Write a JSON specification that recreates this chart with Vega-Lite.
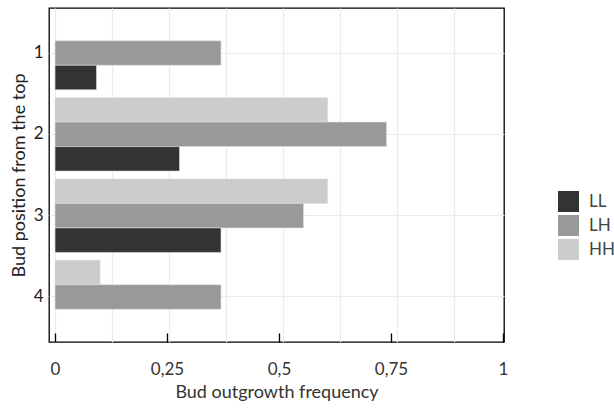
{
  "$schema": "https://vega.github.io/schema/vega-lite/v6.json",
  "width": 455,
  "height": 334,
  "autosize": {"type": "none"},
  "padding": {"left": 49, "top": 8, "right": 110, "bottom": 67},
  "background": "white",
  "config": {
    "font": "Lato",
    "view": {"stroke": "#000000", "strokeWidth": 1.3}
  },
  "data": {
    "values": [
      {"position": "1", "group": "LH", "freq": 0.364},
      {"position": "1", "group": "LL", "freq": 0.091},
      {"position": "2", "group": "HH", "freq": 0.598},
      {"position": "2", "group": "LH", "freq": 0.727},
      {"position": "2", "group": "LL", "freq": 0.273},
      {"position": "3", "group": "HH", "freq": 0.598},
      {"position": "3", "group": "LH", "freq": 0.545},
      {"position": "3", "group": "LL", "freq": 0.364},
      {"position": "4", "group": "HH", "freq": 0.099},
      {"position": "4", "group": "LH", "freq": 0.364}
    ]
  },
  "encoding": {
    "y": {
      "field": "position",
      "type": "nominal",
      "scale": {"domain": ["1", "2", "3", "4"], "paddingInner": 0.0954, "paddingOuter": 0.1015},
      "axis": {
        "title": "Bud position from the top",
        "titleFontSize": 18,
        "titleFontWeight": "normal",
        "titleColor": "#222222",
        "titlePadding": 5,
        "labelFontSize": 17,
        "labelColor": "#222222",
        "labelPadding": 6,
        "ticks": false,
        "domain": false,
        "grid": true,
        "gridColor": "#ebebeb",
        "gridWidth": 1.2
      }
    }
  },
  "layer": [
    {
      "mark": {"type": "bar", "stroke": "#e0e0e0", "strokeWidth": 0.6},
      "encoding": {
        "yOffset": {
          "field": "group",
          "type": "nominal",
          "scale": {"domain": ["HH", "LH", "LL"], "paddingInner": 0, "paddingOuter": 0}
        },
        "x": {
          "field": "freq",
          "type": "quantitative",
          "scale": {"domain": [-0.0132, 0.9846], "nice": false, "zero": false},
          "axis": {
            "orient": "bottom",
            "title": null,
            "values": [0, 0.125, 0.25, 0.375, 0.5, 0.625, 0.75, 0.875],
            "labels": false,
            "ticks": false,
            "domain": false,
            "grid": true,
            "gridColor": "#ebebeb",
            "gridWidth": 1.2
          }
        },
        "color": {
          "field": "group",
          "type": "nominal",
          "scale": {"domain": ["LL", "LH", "HH"], "range": ["#333333", "#999999", "#cccccc"]},
          "legend": {
            "title": null,
            "orient": "none",
            "legendX": 509,
            "legendY": 183,
            "symbolType": "square",
            "symbolSize": 441,
            "symbolStrokeWidth": 0,
            "labelFontSize": 17,
            "labelColor": "#444444",
            "labelOffset": 10,
            "rowPadding": 3
          }
        }
      }
    },
    {
      "mark": {"type": "tick", "opacity": 0},
      "encoding": {
        "x": {
          "field": "freq",
          "type": "quantitative",
          "scale": {"domain": [-0.0134, 1.0022], "nice": false, "zero": false},
          "axis": {
            "orient": "bottom",
            "offset": -9,
            "title": "Bud outgrowth frequency",
            "titleFontSize": 18,
            "titleFontWeight": "normal",
            "titleColor": "#333333",
            "titlePadding": 6,
            "values": [0, 0.25, 0.5, 0.75, 1],
            "labelExpr": "replace(toString(datum.value), '.', ',')",
            "labelFontSize": 17,
            "labelColor": "#333333",
            "labelPadding": 19,
            "labelFlush": false,
            "labelOverlap": false,
            "ticks": true,
            "tickSize": 9,
            "tickWidth": 1.3,
            "tickColor": "#000000",
            "domain": false,
            "grid": false,
            "zindex": 2
          }
        }
      }
    }
  ],
  "resolve": {"scale": {"x": "independent"}, "axis": {"x": "independent"}}
}
